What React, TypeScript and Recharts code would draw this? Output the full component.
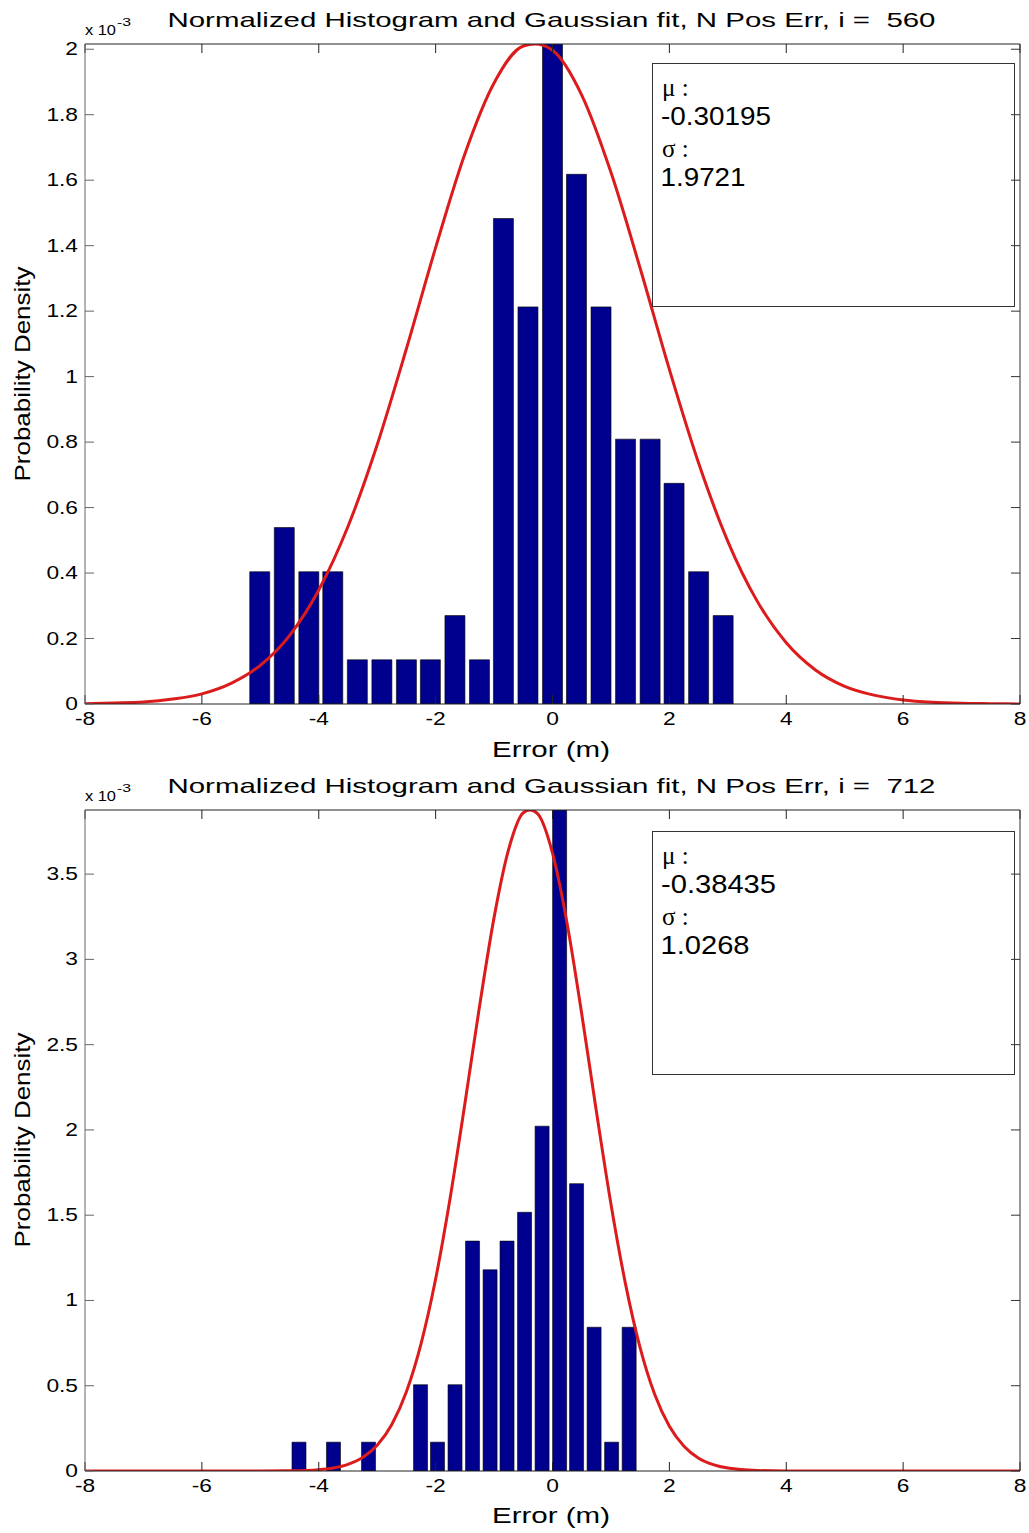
import { ComposedChart, Bar, Line, XAxis, YAxis } from 'recharts';

const FONT = '"Liberation Sans", Arial, sans-serif';
const SERIF = '"Liberation Serif", "Times New Roman", serif';

const X_TICKS = [-8, -6, -4, -2, 0, 2, 4, 6, 8];

// ---- i = 560 ----
const binCenters560 = [-5.01, -4.59, -4.17, -3.76, -3.34, -2.92, -2.5, -2.09, -1.67, -1.25, -0.84, -0.42, 0.0, 0.41, 0.83, 1.25, 1.67, 2.08, 2.5, 2.92];
const density560 = [0.404, 0.539, 0.404, 0.404, 0.135, 0.135, 0.135, 0.135, 0.27, 0.135, 1.483, 1.213, 2.022, 1.618, 1.213, 0.809, 0.809, 0.674, 0.404, 0.27];
const fitX560 = [-8, -7.5, -7, -6.5, -6, -5.5, -5, -4.5, -4, -3.5, -3, -2.5, -2, -1.5, -1, -0.5, -0.3, 0, 0.5, 1, 1.5, 2, 2.5, 3, 3.5, 4, 4.5, 5, 5.5, 6, 6.5, 7, 7.5, 8];
const fitY560 = [0.001, 0.003, 0.006, 0.015, 0.031, 0.063, 0.118, 0.209, 0.348, 0.542, 0.792, 1.085, 1.394, 1.68, 1.897, 2.01, 2.016, 1.997, 1.86, 1.624, 1.331, 1.022, 0.736, 0.497, 0.315, 0.187, 0.104, 0.054, 0.027, 0.012, 0.005, 0.002, 0.001, 0.0];
const yTicks560 = [0, 0.2, 0.4, 0.6, 0.8, 1, 1.2, 1.4, 1.6, 1.8, 2];

// ---- i = 712 ----
const binCenters712 = [-4.33, -3.74, -3.14, -2.25, -1.96, -1.66, -1.36, -1.06, -0.77, -0.47, -0.17, 0.13, 0.42, 0.72, 1.02, 1.32];
const density712 = [0.169, 0.169, 0.169, 0.506, 0.169, 0.506, 1.348, 1.18, 1.348, 1.517, 2.022, 3.876, 1.685, 0.843, 0.169, 0.843];
const fitX712 = [-8, -6, -5, -4.5, -4, -3.75, -3.5, -3.25, -3, -2.75, -2.5, -2.25, -2, -1.75, -1.5, -1.25, -1, -0.75, -0.5, -0.38, -0.25, 0, 0.25, 0.5, 0.75, 1, 1.25, 1.5, 1.75, 2, 2.25, 2.5, 2.75, 3, 3.5, 4, 5, 6, 8];
const fitY712 = [0, 0, 0.0002, 0.0013, 0.008, 0.018, 0.039, 0.079, 0.151, 0.273, 0.465, 0.746, 1.126, 1.604, 2.152, 2.722, 3.245, 3.646, 3.86, 3.876, 3.852, 3.623, 3.211, 2.681, 2.111, 1.566, 1.096, 0.722, 0.448, 0.262, 0.145, 0.075, 0.037, 0.017, 0.003, 0.0004, 0, 0, 0];
const yTicks712 = [0, 0.5, 1, 1.5, 2, 2.5, 3, 3.5];

const toBars = (centers: number[], heights: number[]) => centers.map((x, i) => ({ x, density: heights[i] }));
const toFit = (xs: number[], ys: number[]) => xs.map((x, i) => ({ x, fit: ys[i] }));

const panels = [
  {
    id: 'p560',
    top: 0,
    height: 766,
    title: 'Normalized Histogram and Gaussian fit, N Pos Err, i =  560',
    bars: toBars(binCenters560, density560),
    fit: toFit(fitX560, fitY560),
    yMax: 2.016,
    yTicks: yTicks560,
    barSize: 20,
    mu: '-0.30195',
    sigma: '1.9721',
    muLen: 110,
    sigmaLen: 85,
    boxTop: 63.5,
  },
  {
    id: 'p712',
    top: 766,
    height: 767,
    title: 'Normalized Histogram and Gaussian fit, N Pos Err, i =  712',
    bars: toBars(binCenters712, density712),
    fit: toFit(fitX712, fitY712),
    yMax: 3.876,
    yTicks: yTicks712,
    barSize: 14,
    mu: '-0.38435',
    sigma: '1.0268',
    muLen: 115,
    sigmaLen: 89,
    boxTop: 65.5,
  },
];

function XTick(props: any) {
  const { x, y, payload } = props;
  return (
    <text
      x={0}
      y={0}
      transform={`translate(${x},${y}) scale(1.3,1)`}
      textAnchor="middle"
      dominantBaseline="central"
      fontSize={17.5}
      fontFamily={FONT}
      fill="#000"
    >
      {payload.value}
    </text>
  );
}

function YTick(props: any) {
  const { x, y, payload } = props;
  return (
    <text
      x={0}
      y={0}
      transform={`translate(${x},${y}) scale(1.3,1)`}
      textAnchor="end"
      dominantBaseline="central"
      fontSize={17.5}
      fontFamily={FONT}
      fill="#000"
    >
      {payload.value}
    </text>
  );
}

const NoTick = () => <g />;

function Panel({ p }: { p: (typeof panels)[number] }) {
  return (
    <div style={{ position: 'absolute', left: 0, top: p.top, width: 1029, height: p.height }}>
      <ComposedChart width={1029} height={p.height} data={p.bars} margin={{ top: 34, right: 0, bottom: 0, left: 25 }}>
        <XAxis
          xAxisId="b"
          dataKey="x"
          type="number"
          orientation="bottom"
          domain={[-8, 8]}
          ticks={X_TICKS}
          allowDataOverflow
          height={62}
          tickSize={-9}
          tickMargin={24}
          tick={<XTick />}
          stroke="#222"
        />
        <XAxis
          xAxisId="t"
          dataKey="x"
          type="number"
          orientation="top"
          domain={[-8, 8]}
          ticks={X_TICKS}
          allowDataOverflow
          height={10}
          tickSize={-9}
          tick={NoTick}
          stroke="#222"
        />
        <YAxis
          yAxisId="l"
          type="number"
          domain={[0, p.yMax]}
          ticks={p.yTicks}
          allowDataOverflow
          width={60}
          tickSize={-9}
          tickMargin={16}
          tick={<YTick />}
          stroke="#666"
        />
        <YAxis
          yAxisId="r"
          type="number"
          orientation="right"
          domain={[0, p.yMax]}
          ticks={p.yTicks}
          allowDataOverflow
          width={9}
          tickSize={-9}
          tick={NoTick}
          stroke="#333"
        />
        <Bar
          xAxisId="b"
          yAxisId="l"
          dataKey="density"
          barSize={p.barSize}
          fill="#00008f"
          stroke="#000"
          strokeWidth={0.6}
          isAnimationActive={false}
        />
        <Line
          xAxisId="t"
          yAxisId="r"
          data={p.fit}
          dataKey="fit"
          type="monotone"
          stroke="#dc1c1c"
          strokeWidth={3}
          dot={false}
          activeDot={false}
          isAnimationActive={false}
        />
      </ComposedChart>
      <svg
        width={1029}
        height={p.height}
        style={{ position: 'absolute', left: 0, top: 0, pointerEvents: 'none' }}
        fontFamily={FONT}
        fill="#000"
      >
        <text x={85} y={35} fontSize={15} textLength={31} lengthAdjust="spacingAndGlyphs" style={{ whiteSpace: 'pre' }}>
          x 10
        </text>
        <text x={117} y={26} fontSize={11} textLength={14} lengthAdjust="spacingAndGlyphs">
          -3
        </text>
        <text
          x={551.5}
          y={27}
          textAnchor="middle"
          fontSize={21}
          textLength={768}
          lengthAdjust="spacingAndGlyphs"
          style={{ whiteSpace: 'pre' }}
        >
          {p.title}
        </text>
        <text x={551} y={757} textAnchor="middle" fontSize={22} textLength={118} lengthAdjust="spacingAndGlyphs">
          Error (m)
        </text>
        <text
          transform="translate(30,374) rotate(-90)"
          textAnchor="middle"
          fontSize={22}
          textLength={215}
          lengthAdjust="spacingAndGlyphs"
        >
          Probability Density
        </text>
        <rect x={652.5} y={p.boxTop} width={362} height={243} fill="none" stroke="#333" strokeWidth={1} />
        <text x={662} y={p.boxTop + 32.5} fontSize={25} fontFamily={SERIF} style={{ whiteSpace: 'pre' }}>
          μ :
        </text>
        <text x={661} y={p.boxTop + 61} fontSize={25} textLength={p.muLen} lengthAdjust="spacingAndGlyphs">
          {p.mu}
        </text>
        <text x={662} y={p.boxTop + 93.5} fontSize={25} fontFamily={SERIF} style={{ whiteSpace: 'pre' }}>
          σ :
        </text>
        <text x={660.5} y={p.boxTop + 122} fontSize={25} textLength={p.sigmaLen} lengthAdjust="spacingAndGlyphs">
          {p.sigma}
        </text>
      </svg>
    </div>
  );
}

export default function App() {
  return (
    <div style={{ position: 'absolute', left: 0, top: 0, width: 1029, height: 1533, background: '#fff' }}>
      {panels.map((p) => (
        <Panel key={p.id} p={p} />
      ))}
    </div>
  );
}
